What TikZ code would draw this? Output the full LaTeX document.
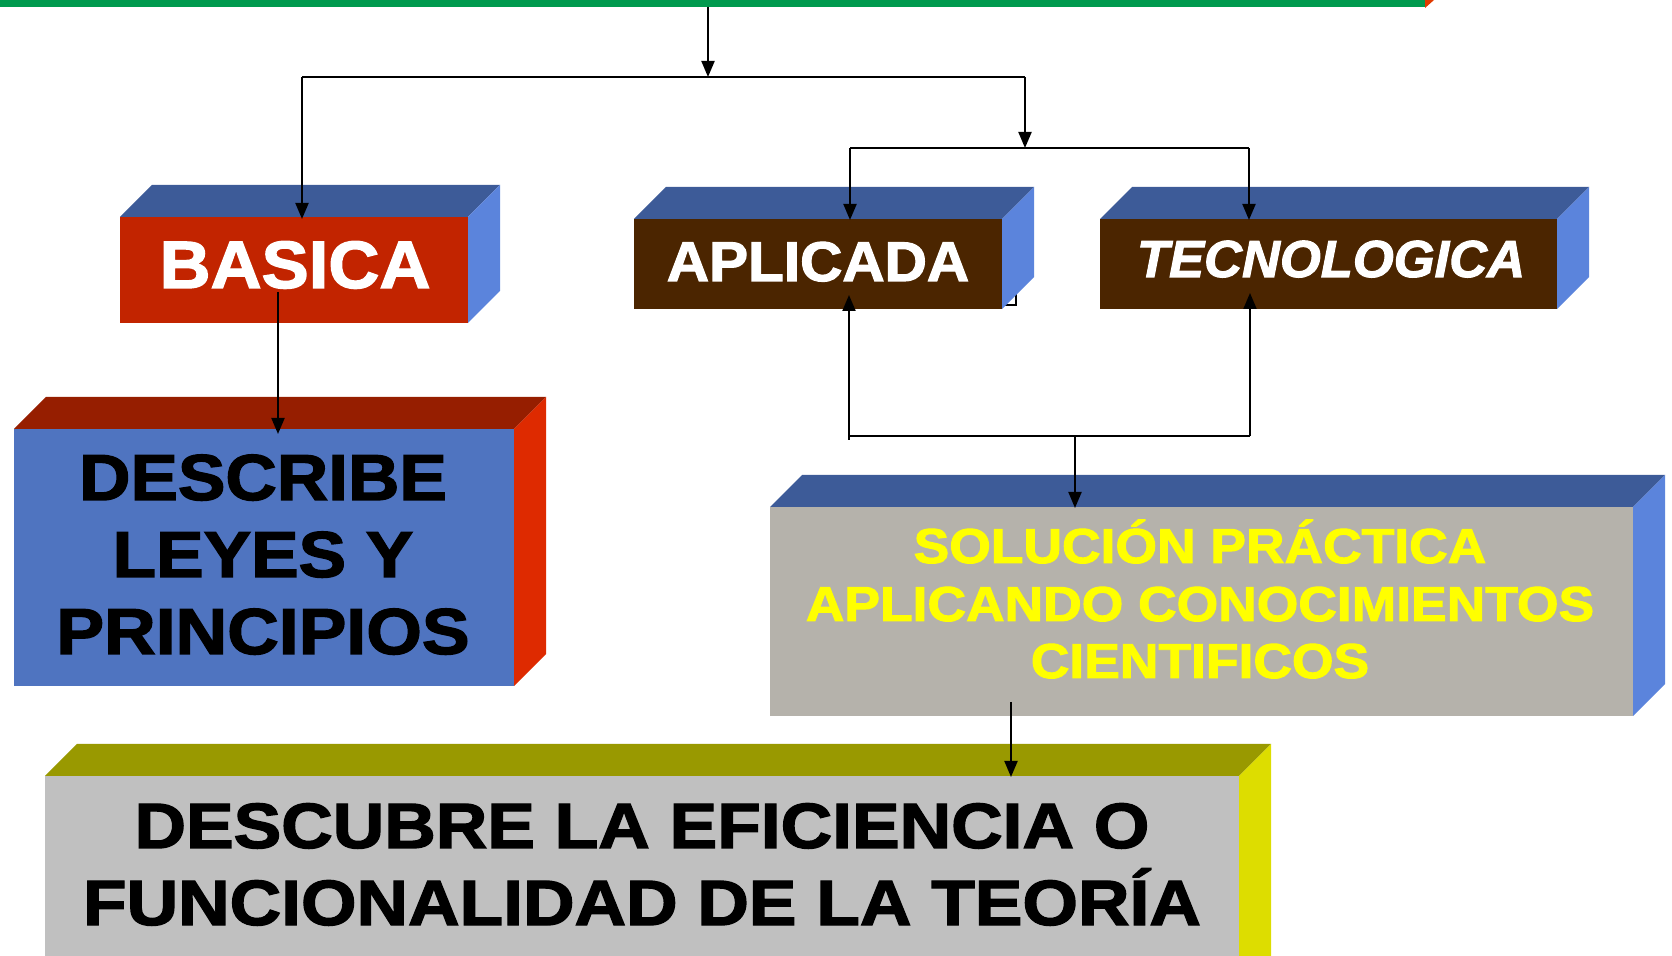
\documentclass[tikz,border=0pt]{standalone}
\usepackage{fontspec}
\setmainfont{Liberation Sans}
\newfontfamily\blk{Liberation Sans Bold}[FakeBold=2]
\newfontfamily\blkit{Liberation Sans Bold Italic}[FakeBold=2]
\usepackage{graphicx}
\usetikzlibrary{arrows.meta}
\definecolor{barGreen}{HTML}{009A4E}
\definecolor{barSide}{HTML}{E03A00}
\definecolor{topBlue}{HTML}{3D5B98}
\definecolor{sideBlue}{HTML}{5B84DC}
\definecolor{redFront}{HTML}{C22400}
\definecolor{brownFront}{HTML}{4B2500}
\definecolor{descFront}{HTML}{4F74C0}
\definecolor{descTop}{HTML}{961E00}
\definecolor{descSide}{HTML}{DE2A00}
\definecolor{solFront}{HTML}{B5B2AB}
\definecolor{solText}{HTML}{FFFF00}
\definecolor{descuFront}{HTML}{C0C0C0}
\definecolor{descuTop}{HTML}{999900}
\definecolor{descuSide}{HTML}{DDDD00}
% #1 x1, #2 y1 (top), #3 x2, #4 y2 (bottom), #5 front, #6 top, #7 side
\newcommand\threedbox[7]{%
  \fill[#6] (#1,#2) -- (#1+32,#2-32) -- (#3+32,#2-32) -- (#3,#2) -- cycle;
  \fill[#7] (#3,#2) -- (#3+32,#2-32) -- (#3+32,#4-32) -- (#3,#4) -- cycle;
  \fill[#5] (#1,#2) rectangle (#3,#4);}
\tikzset{
  ln/.style={line width=1pt, black},
  arr/.style={ln, -{Triangle[length=8pt,width=6.5pt]}},
  txt/.style={anchor=base, inner sep=0pt, font=\blk},
}
\begin{document}
\begin{tikzpicture}[x=0.5pt,y=-0.5pt]
\useasboundingbox (0,0) rectangle (1672,956);
\clip (0,0) rectangle (1672,956);

% top bar
\fill[barGreen] (0,0) rectangle (1425,7);
\fill[barSide] (1425,0) -- (1434,0) -- (1425,8) -- cycle;

% hidden connector piece behind APLICADA
\draw[ln] (1016,280) -- (1016,305) -- (995,305);

% boxes
\threedbox{120}{217}{468}{323}{redFront}{topBlue}{sideBlue}
\threedbox{634}{219}{1002}{309}{brownFront}{topBlue}{sideBlue}
\threedbox{1100}{219}{1557}{309}{brownFront}{topBlue}{sideBlue}
\threedbox{14}{429}{514}{686}{descFront}{descTop}{descSide}
\threedbox{770}{507}{1633}{716}{solFront}{topBlue}{sideBlue}
\threedbox{45}{776}{1239}{1010}{descuFront}{descuTop}{descuSide}

% texts
\node[txt, text=white] (tBasica) at (295,288)
  {\fontsize{33.5pt}{40pt}\selectfont\scalebox{1.055}[1]{BASICA}};
\node[txt, text=white] (tAplicada) at (818,281)
  {\fontsize{28pt}{34pt}\selectfont\scalebox{1.045}[1]{APLICADA}};
\node[txt, text=white, font=\blkit] (tTecno) at (1331,277)
  {\fontsize{26pt}{32pt}\selectfont\scalebox{1.01}[1]{TECNOLOGICA}};
\node[txt] (tDesc1) at (263,500)
  {\fontsize{32.5pt}{40pt}\selectfont\scalebox{1.095}[1]{DESCRIBE}};
\node[txt] (tDesc2) at (263,577)
  {\fontsize{32.5pt}{40pt}\selectfont\scalebox{1.095}[1]{LEYES Y}};
\node[txt] (tDesc3) at (263,654)
  {\fontsize{32.5pt}{40pt}\selectfont\scalebox{1.1}[1]{PRINCIPIOS}};
\node[txt, text=solText] (tSol1) at (1200,563)
  {\fontsize{24.5pt}{30pt}\selectfont\scalebox{1.09}[1]{SOLUCIÓN PRÁCTICA}};
\node[txt, text=solText] (tSol2) at (1200,621)
  {\fontsize{24.5pt}{30pt}\selectfont\scalebox{1.09}[1]{APLICANDO CONOCIMIENTOS}};
\node[txt, text=solText] (tSol3) at (1200,678)
  {\fontsize{24.5pt}{30pt}\selectfont\scalebox{1.09}[1]{CIENTIFICOS}};
\node[txt] (tDescu1) at (642,848)
  {\fontsize{32pt}{40pt}\selectfont\scalebox{1.115}[1]{DESCUBRE LA EFICIENCIA O}};
\node[txt] (tDescu2) at (642,925)
  {\fontsize{32pt}{40pt}\selectfont\scalebox{1.115}[1]{FUNCIONALIDAD DE LA TEORÍA}};

% connector points
\coordinate (gBar) at (708,7);
\coordinate (j1) at (708,77);
\coordinate (j1L) at (302,77);
\coordinate (j1R) at (1025,77);
\coordinate (j2) at (1025,148);
\coordinate (j2L) at (850,148);
\coordinate (j2R) at (1249,148);
\coordinate (inBasica) at (302,219);
\coordinate (inAplicada) at (850,220);
\coordinate (inTecno) at (1249,220);
\coordinate (outBasica) at (278,292);
\coordinate (inDesc) at (278,434);
\coordinate (j3L) at (849,436);
\coordinate (j3R) at (1250,436);
\coordinate (j3M) at (1075,436);
\coordinate (j3Lend) at (849,440);
\coordinate (upAplicada) at (849,295);
\coordinate (upTecno) at (1250,293);
\coordinate (inSol) at (1075,508);
\coordinate (outSol) at (1011,702);
\coordinate (inDescu) at (1011,777);

% connectors
\draw[arr] (gBar) -- (j1);
\draw[ln] (j1L) -- (j1R);
\draw[arr] (j1L) -- (inBasica);
\draw[arr] (j1R) -- (j2);
\draw[ln] (j2L) -- (j2R);
\draw[arr] (j2L) -- (inAplicada);
\draw[arr] (j2R) -- (inTecno);
\draw[arr] (outBasica) -- (inDesc);
\draw[ln] (j3Lend) -- (j3L) -- (j3R);
\draw[arr] (j3L) -- (upAplicada);
\draw[arr] (j3R) -- (upTecno);
\draw[arr] (j3M) -- (inSol);
\draw[arr] (outSol) -- (inDescu);
\end{tikzpicture}
\end{document}
